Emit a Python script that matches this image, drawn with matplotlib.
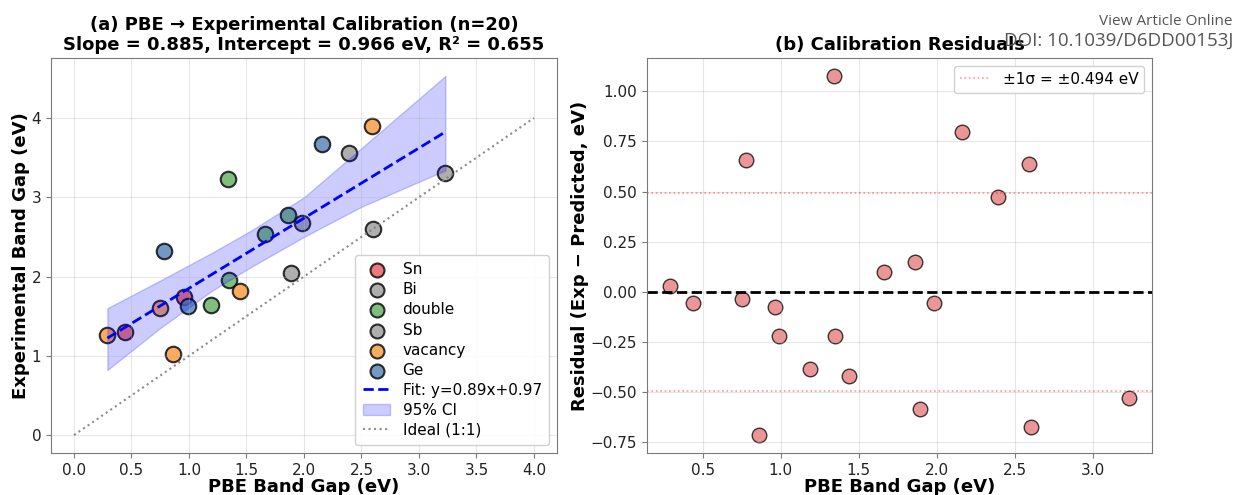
# PBE -> experimental band gap calibration, two panels
import matplotlib
matplotlib.use("Agg")
import matplotlib.pyplot as plt
import numpy as np

# data
families = ["Sn", "Bi", "double", "Sb", "vacancy", "Ge"]
fam_colors = ["#e8575a", "#9a9a9a", "#5fae5f", "#9a9a9a", "#f5973a", "#4f7fb5"]
pbe_by_fam = {
    "Sn": [0.44, 0.96],
    "Bi": [1.89, 2.60],
    "double": [1.19, 1.34, 1.35, 1.66, 1.86],
    "Sb": [1.98, 2.39, 3.23],
    "vacancy": [0.29, 0.75, 0.86, 1.44, 2.59],
    "Ge": [0.78, 0.99, 2.16],
}
exp_by_fam = {
    "Sn": [1.30, 1.74],
    "Bi": [2.05, 2.60],
    "double": [1.64, 3.23, 1.95, 2.54, 2.77],
    "Sb": [2.67, 3.56, 3.30],
    "vacancy": [1.26, 1.60, 1.02, 1.82, 3.90],
    "Ge": [2.32, 1.63, 3.67],
}

slope = 0.885
intercept = 0.966
r2 = 0.655
sigma = 0.494

band_x = [0.29, 0.75, 1.20, 1.54, 2.00, 2.50, 3.23]
band_lo = [0.82, 1.35, 1.82, 2.12, 2.50, 2.88, 3.34]
band_hi = [1.60, 1.95, 2.30, 2.58, 3.00, 3.62, 4.53]

# residual panel
res_x = [0.29, 0.44, 0.75, 0.78, 0.86, 0.96, 0.99, 1.19, 1.34, 1.35,
         1.44, 1.66, 1.86, 1.89, 1.98, 2.16, 2.39, 2.59, 2.60, 3.23]
res_y = [0.03, -0.056, -0.036, 0.658, -0.714, -0.075, -0.218, -0.384, 1.076, -0.219,
         -0.422, 0.101, 0.151, -0.586, -0.055, 0.797, 0.473, 0.639, -0.673, -0.528]

spine_col = "#7a7a7a"

fig = plt.figure(figsize=(12.41, 4.95), dpi=100)
ax1 = fig.add_axes([0.0411, 0.0848, 0.4077, 0.7980])
ax2 = fig.add_axes([0.5213, 0.0848, 0.4070, 0.7980])

# (a) calibration
for fam, col in zip(families, fam_colors):
    ax1.scatter(pbe_by_fam[fam], exp_by_fam[fam], s=125, c=col, alpha=0.8,
                edgecolors="black", linewidths=1.5, label=fam)

all_x = np.concatenate([pbe_by_fam[f] for f in families])
xfit = np.array([all_x.min(), all_x.max()])
ax1.plot(xfit, slope * xfit + intercept, "b--", lw=2,
         label=f"Fit: y={slope:.2f}x+{intercept:.2f}")
ax1.fill_between(band_x, band_lo, band_hi, color="blue", alpha=0.2, label="95% CI")
ax1.plot([0, 4], [0, 4], ":", color="gray", lw=1.5, alpha=0.9, label="Ideal (1:1)")

ax1.set_xlabel("PBE Band Gap (eV)", fontsize=13, fontweight="bold", labelpad=0)
ax1.set_ylabel("Experimental Band Gap (eV)", fontsize=13, fontweight="bold", labelpad=1)
ax1.set_title("(a) PBE \u2192 Experimental Calibration (n=20)\n"
              f"Slope = {slope:.3f}, Intercept = {intercept:.3f} eV, R\u00b2 = {r2:.3f}",
              fontsize=13, fontweight="bold", pad=6, linespacing=1.1)
ax1.legend(loc="lower right", fontsize=11, framealpha=0.9, borderpad=0.5,
           handletextpad=0.8, labelspacing=0.33, markerscale=0.9, handlelength=1.8)
ax1.set_xticks(np.arange(0, 4.01, 0.5))
ax1.set_yticks([0, 1, 2, 3, 4])

# (b) residuals
ax2.scatter(res_x, res_y, s=110, c="#e57373", alpha=0.75,
            edgecolors="black", linewidths=1)
ax2.axhline(0, color="black", ls="--", lw=2)
ax2.axhline(sigma, color="red", ls=":", lw=1.2, alpha=0.4,
            label=f"\u00b11\u03c3 = \u00b1{sigma:.3f} eV")
ax2.axhline(-sigma, color="red", ls=":", lw=1.2, alpha=0.4)
ax2.set_xlabel("PBE Band Gap (eV)", fontsize=13, fontweight="bold", labelpad=0)
ax2.set_ylabel("Residual (Exp \u2212 Predicted, eV)", fontsize=13, fontweight="bold",
               labelpad=1)
ax2.set_title("(b) Calibration Residuals", fontsize=13, fontweight="bold", pad=6)
ax2.legend(loc="upper right", fontsize=11, framealpha=0.9)

for ax in (ax1, ax2):
    ax.grid(True, alpha=0.3)
    ax.tick_params(labelsize=11, color=spine_col, labelcolor="#222222")
    for sp in ax.spines.values():
        sp.set_color(spine_col)

# journal watermark
fig.text(0.9935, 0.957, "View Article Online", ha="right", va="center",
         fontsize=11, color="#555555", family="Open Sans")
fig.text(0.9935, 0.918, "DOI: 10.1039/D6DD00153J", ha="right", va="center",
         fontsize=13.5, color="#555555", family="Open Sans")

fig.savefig("out.png", dpi=100)
